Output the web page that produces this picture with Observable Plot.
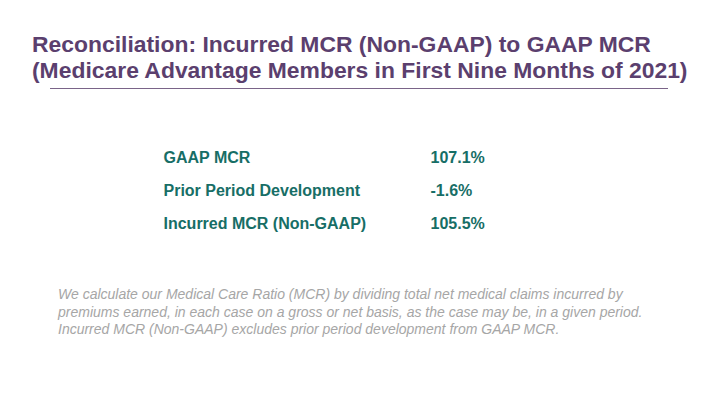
<!DOCTYPE html>
<html><head><meta charset="utf-8">
<script src="https://cdn.jsdelivr.net/npm/d3@7"></script>
<script src="https://cdn.jsdelivr.net/npm/@observablehq/plot@0.6"></script>
<style>
body{margin:0;background:#fff;}
#wrap{position:relative;width:720px;height:405px;overflow:hidden;font-family:"Liberation Sans",Arial,sans-serif;}
#title{position:absolute;left:32px;top:32px;font-weight:bold;font-size:22.9px;line-height:25.5px;color:#5b3f6e;white-space:nowrap;}
#rule{position:absolute;left:50px;top:88px;width:618px;height:0;border-top:1px solid #7a6488;}
#note{position:absolute;left:58px;top:286px;font-style:italic;font-size:14px;line-height:17.5px;color:#a6a6a6;white-space:nowrap;}
#chart{position:absolute;left:0;top:0;}
</style></head>
<body><div id="wrap">
<div id="title"></div>
<div id="rule"></div>
<div id="chart"></div>
<div id="note"></div>
</div>
<script>
const titleLines = ["Reconciliation: Incurred MCR (Non-GAAP) to GAAP MCR", "(Medicare Advantage Members in First Nine Months of 2021)"];
const metrics = ["GAAP MCR", "Prior Period Development", "Incurred MCR (Non-GAAP)"];
const values = ["107.1%", "-1.6%", "105.5%"];
const noteLines = [
  "We calculate our Medical Care Ratio (MCR) by dividing total net medical claims incurred by",
  "premiums earned, in each case on a gross or net basis, as the case may be, in a given period.",
  "Incurred MCR (Non-GAAP) excludes prior period development from GAAP MCR."
];
const columns = ["Metric", "Value"];

document.getElementById("title").innerHTML = titleLines.join("<br>");
document.getElementById("note").innerHTML = noteLines.join("<br>");

const cells = [];
metrics.forEach((m, i) => {
  cells.push({row: m, col: "Metric", text: m});
  cells.push({row: m, col: "Value", text: values[i]});
});

const plot = Plot.plot({
  width: 720, height: 405,
  margin: 0,
  x: {type: "point", domain: columns, range: [163, 430], padding: 0, axis: null},
  y: {type: "point", domain: metrics, range: [162, 228], padding: 0, axis: null},
  style: {fontFamily: "Liberation Sans, Arial, sans-serif", background: "transparent"},
  marks: [
    Plot.text(cells, {x: "col", y: "row", text: "text", textAnchor: "start", lineAnchor: "bottom",
      fontSize: 16, fontWeight: "bold", fill: "#176e66"})
  ]
});
document.getElementById("chart").appendChild(plot);
</script>
</body></html>
